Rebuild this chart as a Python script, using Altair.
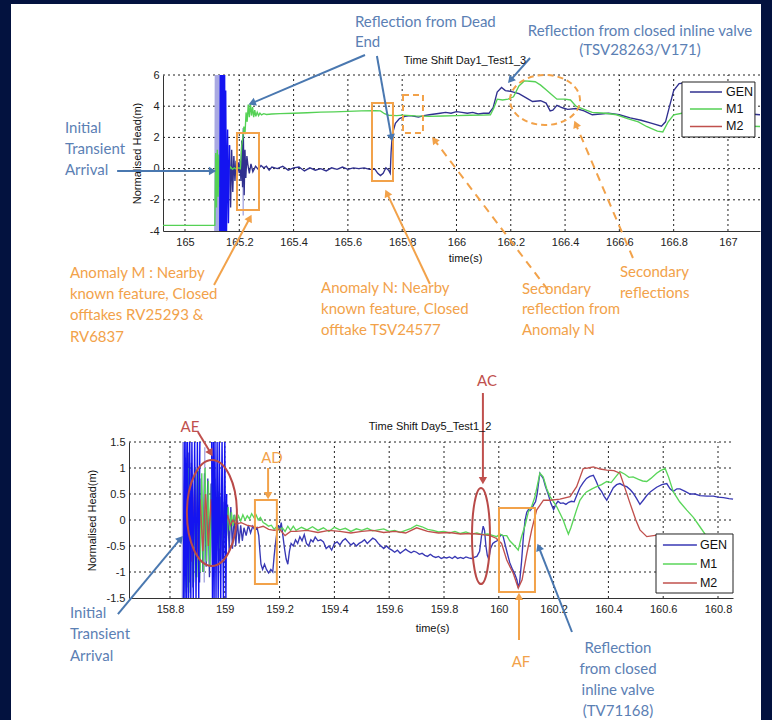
import math
import altair as alt
import pandas as pd

# ---------------- data ----------------
SERIES = ["GEN", "M1", "M2"]
TOP_TITLE = "Time Shift Day1_Test1_3"
BOT_TITLE = "Time Shift Day5_Test1_2"

TOP_XTICKS = [165.0, 165.2, 165.4, 165.6, 165.8, 166.0, 166.2, 166.4, 166.6, 166.8, 167.0]
TOP_YTICKS = [-4, -2, 0, 2, 4, 6]
BOT_XTICKS = [158.8, 159.0, 159.2, 159.4, 159.6, 159.8, 160.0, 160.2, 160.4, 160.6, 160.8]
BOT_YTICKS = [-1.5, -1.0, -0.5, 0.0, 0.5, 1.0, 1.5]

TOP_GEN = [(165.164, 1.5), (165.168, -2.5), (165.172, 1.2), (165.176, -1.5), (165.180, 0.8), (165.184, -0.8),
           (165.188, 0.5), (165.192, -0.5), (165.196, 0.4), (165.200, -0.3), (165.203, 0.5), (165.206, -0.8),
           (165.209, 1.8), (165.212, -1.2), (165.215, 2.2), (165.218, -1.7), (165.221, 1.2), (165.224, -0.6),
           (165.228, 0.8), (165.232, 0.2), (165.237, -0.3), (165.243, 0.3), (165.25, -0.2), (165.26, 0.15),
           (165.27, -0.05), (165.28, 0.2), (165.29, 0.05), (165.30, 0.15), (165.31, -0.1), (165.32, 0.1),
           (165.34, 0.0), (165.36, 0.15), (165.38, -0.1), (165.40, 0.05), (165.42, 0.1), (165.44, -0.15),
           (165.46, 0.05), (165.48, -0.1), (165.50, 0.0), (165.52, -0.15), (165.54, 0.05), (165.56, -0.05),
           (165.58, 0.1), (165.60, -0.05), (165.62, 0.05), (165.64, 0.0), (165.66, 0.05), (165.68, -0.05),
           (165.70, -0.05), (165.71, -0.3), (165.72, -0.45), (165.73, -0.3), (165.74, 0.05), (165.75, -0.1),
           (165.756, -0.3), (165.759, 1.0), (165.762, 1.8), (165.767, 2.4), (165.775, 2.9), (165.79, 3.2),
           (165.81, 3.35), (165.83, 3.4), (165.86, 3.3), (165.88, 3.4), (165.90, 3.45), (165.92, 3.5),
           (165.94, 3.55), (165.96, 3.6), (165.98, 3.55), (166.00, 3.65), (166.02, 3.6), (166.04, 3.55),
           (166.06, 3.6), (166.08, 3.5), (166.10, 3.55), (166.12, 3.55), (166.135, 3.9), (166.15, 4.9),
           (166.166, 5.2), (166.18, 5.0), (166.20, 4.95), (166.23, 4.8), (166.26, 4.5), (166.28, 4.3),
           (166.31, 4.35), (166.33, 4.2), (166.345, 3.7), (166.355, 3.75), (166.37, 4.05), (166.39, 3.9),
           (166.41, 3.8), (166.44, 3.85), (166.47, 3.7), (166.50, 3.45), (166.53, 3.5), (166.56, 3.55),
           (166.60, 3.45), (166.64, 3.25), (166.68, 3.1), (166.72, 2.9), (166.755, 2.72), (166.77, 3.0),
           (166.785, 4.0), (166.80, 5.0), (166.82, 5.45), (166.85, 5.5), (166.88, 5.4), (166.92, 5.3),
           (166.96, 5.0), (167.00, 4.2), (167.04, 3.6), (167.08, 3.5), (167.118, 3.45)]

TOP_M1 = [(164.919, -3.64), (165.110, -3.64), (165.113, 1.0), (165.116, -2.5), (165.119, 1.2), (165.122, -1.8),
          (165.125, 0.9), (165.128, -1.2), (165.131, 0.8), (165.134, -0.6), (165.138, 0.6), (165.142, -0.3),
          (165.147, 0.4), (165.152, -0.2), (165.157, 0.25), (165.162, -0.1), (165.168, 0.1), (165.175, -0.05),
          (165.182, 0.05), (165.190, -0.05), (165.198, 0.05), (165.204, 0.0), (165.209, 1.5), (165.213, 2.0),
          (165.217, 2.7), (165.221, 2.2), (165.225, 3.6), (165.229, 3.0), (165.233, 4.1), (165.237, 3.3),
          (165.241, 4.2), (165.245, 3.4), (165.249, 3.95), (165.253, 3.3), (165.257, 3.75), (165.261, 3.35),
          (165.266, 3.62), (165.271, 3.4), (165.276, 3.56), (165.282, 3.44), (165.29, 3.52), (165.30, 3.47),
          (165.32, 3.5), (165.35, 3.52), (165.40, 3.55), (165.45, 3.58), (165.50, 3.62), (165.55, 3.64),
          (165.60, 3.67), (165.65, 3.7), (165.70, 3.72), (165.72, 3.7), (165.735, 3.52), (165.75, 3.42),
          (165.78, 3.4), (165.80, 3.43), (165.85, 3.38), (165.90, 3.35), (165.95, 3.37), (166.00, 3.4),
          (166.05, 3.42), (166.10, 3.43), (166.125, 3.45), (166.138, 3.9), (166.15, 4.45), (166.17, 4.4),
          (166.19, 4.45), (166.21, 4.6), (166.23, 5.3), (166.25, 5.62), (166.27, 5.6), (166.29, 5.57),
          (166.31, 5.35), (166.33, 5.05), (166.35, 4.75), (166.37, 4.45), (166.40, 4.45), (166.42, 4.4),
          (166.44, 4.0), (166.47, 3.8), (166.50, 3.6), (166.55, 3.55), (166.59, 3.45), (166.63, 3.2),
          (166.67, 3.0), (166.70, 2.7), (166.74, 2.4), (166.76, 2.35), (166.78, 3.0), (166.80, 3.45),
          (166.83, 3.55), (166.86, 3.3), (166.90, 3.0), (166.95, 2.8), (167.00, 2.75), (167.118, 2.7)]

TOP_SPIKE = [[(165.128, -4), (165.130, 6), (165.132, -4), (165.134, 6), (165.136, -4), (165.138, 6),
              (165.140, -4), (165.142, 6), (165.144, -4), (165.146, 6), (165.148, -4), (165.150, 5),
              (165.153, -4), (165.157, 2.5), (165.160, -3.5), (165.164, 1.5)]]
TOP_FAINT = [[(165.110, -4), (165.112, 6), (165.114, -4), (165.116, 6), (165.118, -4), (165.120, 6),
              (165.122, -4), (165.124, 6), (165.126, -4), (165.128, 6)],
             [(165.2135, 2.6), (165.2145, -3.0)]]

BOT_GEN = [(158.850, 0.0), (158.855, 1.2), (158.860, -1.4), (158.866, 1.3), (158.872, -1.2), (158.878, 1.1),
           (158.884, -1.3), (158.890, 1.0), (158.896, -1.1), (158.902, 0.9), (158.908, -1.2), (158.914, 0.8),
           (158.920, -1.0), (158.926, 0.9), (158.932, -0.9), (158.938, 0.8), (158.944, -1.1), (158.950, 0.7),
           (158.956, -0.8), (158.962, 0.6), (158.968, -0.9), (158.974, 0.5), (158.980, -0.8), (158.986, 0.45),
           (158.992, -0.75), (158.998, 0.35), (159.004, -0.7), (159.010, 0.3), (159.016, -0.6), (159.022, 0.25),
           (159.028, -0.55), (159.034, 0.1), (159.040, -0.5), (159.046, 0.0), (159.052, -0.45), (159.058, -0.1),
           (159.064, -0.4), (159.070, -0.15), (159.078, -0.3), (159.086, -0.1), (159.094, -0.25), (159.102, -0.12),
           (159.110, -0.2), (159.118, -0.15), (159.124, -0.3), (159.128, -0.6), (159.132, -0.85), (159.138, -0.95),
           (159.145, -0.85), (159.152, -0.95), (159.160, -1.02), (159.168, -0.95), (159.175, -1.0), (159.180, -0.7),
           (159.185, -0.45), (159.190, -0.25), (159.196, -0.1), (159.200, -0.2), (159.206, -0.05), (159.212, -0.3),
           (159.218, -0.55), (159.224, -0.75), (159.230, -0.85), (159.236, -0.6), (159.242, -0.45), (159.250, -0.5),
           (159.258, -0.38), (159.266, -0.45), (159.274, -0.32), (159.282, -0.4), (159.290, -0.28), (159.298, -0.45),
           (159.306, -0.5), (159.314, -0.38), (159.322, -0.42), (159.330, -0.33), (159.340, -0.4), (159.350, -0.38),
           (159.360, -0.42), (159.370, -0.55), (159.380, -0.5), (159.390, -0.58), (159.400, -0.45), (159.410, -0.42),
           (159.420, -0.48), (159.430, -0.4), (159.440, -0.36), (159.450, -0.42), (159.460, -0.48), (159.470, -0.44),
           (159.480, -0.5), (159.490, -0.45), (159.500, -0.42), (159.510, -0.38), (159.520, -0.45), (159.530, -0.4),
           (159.540, -0.35), (159.550, -0.38), (159.560, -0.45), (159.570, -0.5), (159.580, -0.55), (159.590, -0.5),
           (159.600, -0.55), (159.610, -0.58), (159.620, -0.62), (159.630, -0.58), (159.640, -0.64), (159.650, -0.6),
           (159.660, -0.56), (159.670, -0.6), (159.680, -0.63), (159.690, -0.6), (159.700, -0.62), (159.710, -0.66),
           (159.720, -0.64), (159.730, -0.68), (159.740, -0.7), (159.750, -0.66), (159.760, -0.7), (159.770, -0.72),
           (159.780, -0.7), (159.790, -0.74), (159.800, -0.72), (159.810, -0.73), (159.820, -0.71), (159.830, -0.74),
           (159.840, -0.7), (159.850, -0.74), (159.860, -0.72), (159.870, -0.74), (159.880, -0.71), (159.890, -0.73),
           (159.900, -0.74), (159.910, -0.72), (159.920, -0.7), (159.930, -0.6), (159.937, -0.3), (159.943, -0.12),
           (159.948, -0.2), (159.953, -0.5), (159.958, -0.68), (159.963, -0.75), (159.970, -0.55), (159.978, -0.45),
           (159.986, -0.42), (159.994, -0.4), (160.000, -0.35), (160.008, -0.28), (160.015, -0.3), (160.022, -0.45),
           (160.030, -0.62), (160.040, -0.82), (160.050, -0.95), (160.059, -1.05), (160.066, -1.15), (160.071, -1.3),
           (160.076, -1.2), (160.083, -0.8), (160.090, -0.3), (160.096, 0.0), (160.102, 0.15), (160.108, 0.2),
           (160.114, 0.18), (160.120, 0.22), (160.128, 0.3), (160.134, 0.35), (160.140, 0.5), (160.146, 0.75),
           (160.150, 0.9), (160.156, 0.85), (160.162, 0.8), (160.170, 0.65), (160.180, 0.5), (160.190, 0.32),
           (160.200, 0.2), (160.208, 0.3), (160.216, 0.36), (160.225, 0.32), (160.235, 0.33), (160.245, 0.3),
           (160.255, 0.34), (160.265, 0.36), (160.275, 0.35), (160.285, 0.48), (160.296, 0.62), (160.308, 0.72),
           (160.320, 0.8), (160.332, 0.84), (160.345, 0.86), (160.355, 0.75), (160.365, 0.62), (160.375, 0.55),
           (160.385, 0.45), (160.394, 0.38), (160.404, 0.48), (160.418, 0.62), (160.430, 0.68), (160.442, 0.7),
           (160.455, 0.66), (160.467, 0.64), (160.480, 0.58), (160.490, 0.52), (160.502, 0.42), (160.515, 0.3),
           (160.527, 0.38), (160.540, 0.47), (160.555, 0.55), (160.576, 0.63), (160.595, 0.68), (160.613, 0.7),
           (160.625, 0.6), (160.637, 0.55), (160.650, 0.6), (160.661, 0.6), (160.680, 0.55), (160.698, 0.5),
           (160.716, 0.5), (160.734, 0.47), (160.760, 0.46), (160.783, 0.46), (160.800, 0.44), (160.820, 0.43),
           (160.840, 0.41), (160.855, 0.4)]

BOT_M1 = [(158.850, -1.5), (158.856, 0.8), (158.862, -1.3), (158.868, 1.0), (158.874, -1.4), (158.880, 0.9),
          (158.886, -1.2), (158.892, 1.0), (158.898, -1.1), (158.904, 0.95), (158.910, -1.0), (158.916, 0.9),
          (158.922, -1.0), (158.928, 1.0), (158.934, -0.8), (158.940, 0.75), (158.946, -0.9), (158.952, 0.7),
          (158.958, -0.85), (158.964, 0.8), (158.970, -0.6), (158.976, 0.55), (158.982, -0.55), (158.988, 0.45),
          (158.994, -0.4), (159.000, 0.35), (159.006, -0.3), (159.012, 0.25), (159.018, -0.2), (159.024, 0.15),
          (159.030, -0.12), (159.036, 0.1), (159.042, -0.05), (159.050, 0.08), (159.058, -0.02), (159.066, 0.1),
          (159.074, 0.0), (159.082, 0.08), (159.090, 0.02), (159.098, 0.12), (159.106, 0.05), (159.114, 0.1),
          (159.122, 0.0), (159.130, 0.05), (159.140, -0.05), (159.150, -0.08), (159.160, -0.12), (159.170, -0.1),
          (159.180, -0.18), (159.190, -0.12), (159.200, -0.2), (159.210, -0.15), (159.220, -0.22), (159.230, -0.12),
          (159.240, -0.2), (159.250, -0.12), (159.26, -0.2), (159.28, -0.14), (159.30, -0.19), (159.32, -0.13),
          (159.34, -0.2), (159.36, -0.15), (159.38, -0.22), (159.40, -0.14), (159.42, -0.19), (159.44, -0.16),
          (159.46, -0.22), (159.48, -0.17), (159.50, -0.2), (159.52, -0.16), (159.54, -0.21), (159.56, -0.19),
          (159.58, -0.17), (159.60, -0.22), (159.62, -0.2), (159.64, -0.24), (159.66, -0.2), (159.68, -0.16),
          (159.70, -0.1), (159.72, -0.13), (159.74, -0.18), (159.76, -0.2), (159.78, -0.23), (159.80, -0.22),
          (159.82, -0.25), (159.84, -0.22), (159.86, -0.26), (159.88, -0.23), (159.90, -0.27), (159.92, -0.25),
          (159.94, -0.28), (159.96, -0.27), (159.98, -0.3), (159.992, -0.32), (160.004, -0.27), (160.015, -0.3),
          (160.029, -0.3), (160.04, -0.4), (160.055, -0.48), (160.071, -0.58), (160.083, -0.32), (160.096, -0.1),
          (160.108, 0.16), (160.12, 0.26), (160.132, 0.45), (160.15, 0.9), (160.162, 0.83), (160.175, 0.6),
          (160.187, 0.45), (160.2, 0.35), (160.211, 0.26), (160.224, 0.12), (160.235, 0.0), (160.245, -0.15),
          (160.254, -0.27), (160.263, -0.15), (160.272, 0.0), (160.284, 0.2), (160.296, 0.38), (160.308, 0.47),
          (160.32, 0.54), (160.34, 0.6), (160.357, 0.64), (160.375, 0.68), (160.394, 0.74), (160.41, 0.72),
          (160.425, 0.82), (160.442, 0.93), (160.46, 0.88), (160.475, 0.82), (160.49, 0.83), (160.51, 0.78),
          (160.525, 0.75), (160.54, 0.74), (160.555, 0.8), (160.576, 0.9), (160.59, 0.95), (160.607, 0.99),
          (160.62, 0.82), (160.637, 0.54), (160.66, 0.35), (160.686, 0.19), (160.71, 0.05), (160.734, -0.13),
          (160.759, -0.32), (160.78, -0.5), (160.80, -0.65), (160.83, -0.75), (160.855, -0.78)]

BOT_M2 = [(158.850, 0.0), (158.860, -0.6), (158.870, 0.5), (158.880, -0.8), (158.890, 0.6), (158.900, -0.7),
          (158.910, 0.4), (158.920, -0.6), (158.930, 0.5), (158.940, -0.5), (158.950, 0.4), (158.960, -0.4),
          (158.970, 0.3), (158.980, -0.3), (158.990, 0.2), (159.000, -0.2), (159.010, 0.1), (159.020, -0.1),
          (159.030, 0.0), (159.040, -0.08), (159.060, -0.05), (159.080, -0.1), (159.100, -0.12), (159.12, -0.15),
          (159.14, -0.12), (159.16, -0.18), (159.18, -0.2), (159.20, -0.18), (159.22, -0.3), (159.24, -0.22),
          (159.26, -0.22), (159.30, -0.2), (159.34, -0.24), (159.38, -0.2), (159.42, -0.22), (159.46, -0.25),
          (159.50, -0.22), (159.54, -0.2), (159.58, -0.24), (159.62, -0.22), (159.66, -0.25), (159.70, -0.15),
          (159.74, -0.22), (159.78, -0.25), (159.82, -0.24), (159.86, -0.27), (159.90, -0.26), (159.94, -0.28),
          (159.968, -0.3), (159.99, -0.35), (160.01, -0.45), (160.029, -0.77), (160.053, -1.03), (160.071, -1.31),
          (160.085, -1.15), (160.102, -0.65), (160.12, -0.19), (160.138, 0.19), (160.163, 0.38), (160.187, 0.38),
          (160.223, 0.4), (160.26, 0.45), (160.284, 0.64), (160.308, 0.99), (160.325, 1.0), (160.345, 1.02),
          (160.37, 0.98), (160.394, 0.96), (160.42, 0.95), (160.442, 0.9), (160.455, 0.7), (160.479, 0.32),
          (160.5, 0.0), (160.515, -0.19), (160.54, -0.32), (160.576, -0.29), (160.62, -0.4), (160.68, -0.6),
          (160.74, -0.8), (160.80, -0.95), (160.855, -1.0)]

BOT_SPIKE = [[(158.849, -1.5), (158.852, 1.5), (158.855, -1.5), (158.858, 1.5), (158.861, -1.5), (158.864, 1.5),
              (158.868, -1.5), (158.872, 1.5), (158.876, -1.5), (158.880, 1.5), (158.885, -1.5), (158.890, 1.5),
              (158.895, -1.5), (158.900, 1.5), (158.905, -1.5), (158.909, 1.5)],
             [(158.952, 1.5), (158.955, -1.5), (158.958, 1.5), (158.961, -1.5), (158.964, 1.5), (158.968, -1.5),
              (158.972, 1.5), (158.976, -1.5), (158.980, 1.5), (158.985, -1.5), (158.990, 1.5), (158.995, -1.5),
              (159.000, 1.5), (159.004, -1.5), (159.007, 0.5)]]
BOT_FAINT = [[(158.845, -1.5), (158.8465, 1.5), (158.848, -1.5)],
             [(158.925, -1.2), (158.927, 1.4)]]

# ---------------- styling / layout ----------------
NAVY = "#03123f"
BLUE_TXT = "#5b80b4"
BLUE_ARW = "#4a78b0"
ORANGE = "#f2a24a"
RED = "#c0504d"
FONT = "Lato"
AX_FONT = "Liberation Sans"
LBL = "replace(format(datum.value, '~g'), '\u2212', '-')"

TOP = dict(
    xdom=[164.919, 167.118], xrng=[152, 749], ydom=[-4, 6], yrng=[227, 71],
    xticks=TOP_XTICKS, yticks=TOP_YTICKS,
    xoff=-489, yoff=-152, xtitle=(454, 27), ytitle=(-26, 149),
    colors=["#30308f", "#55d155", "#c0504d"],
    series=[("GEN", TOP_GEN), ("M1", TOP_M1)],
    spike=TOP_SPIKE, faint=TOP_FAINT,
    legend=dict(box=(166.8306, 167.0994, 2.026, 5.551), rows=[4.91, 3.82, 2.699], line=(166.86, 166.978), lab=166.993),
    texts=[(165.626, 9.397, "Reflection from Dead", BLUE_TXT, "left", 15),
           (165.626, 8.115, "End", BLUE_TXT, "left", 15),
           (166.676, 8.82, "Reflection from closed inline  valve", BLUE_TXT, "center", 15),
           (166.676, 7.603, "(TSV28263/V171)", BLUE_TXT, "center", 15),
           (164.558, 2.603, "Initial", BLUE_TXT, "left", 15),
           (164.558, 1.256, "Transient", BLUE_TXT, "left", 15),
           (164.558, -0.09, "Arrival", BLUE_TXT, "left", 15),
           (164.576, -6.692, "Anomaly M : Nearby", ORANGE, "left", 15),
           (164.576, -8.038, "known feature, Closed", ORANGE, "left", 15),
           (164.576, -9.385, "offtakes RV25293 &", ORANGE, "left", 15),
           (164.576, -10.795, "RV6837", ORANGE, "left", 15),
           (165.501, -7.654, "Anomaly N: Nearby", ORANGE, "left", 15),
           (165.501, -9.0, "known feature, Closed", ORANGE, "left", 15),
           (165.501, -10.346, "offtake TSV24577", ORANGE, "left", 15),
           (166.241, -7.718, "Secondary", ORANGE, "left", 15),
           (166.241, -9.0, "reflection from", ORANGE, "left", 15),
           (166.241, -10.346, "Anomaly N", ORANGE, "left", 15),
           (166.602, -6.628, "Secondary", ORANGE, "left", 15),
           (166.602, -7.974, "reflections", ORANGE, "left", 15)],
    title=(166.031, 6.897, TOP_TITLE),
    arrows=[(165.663, 7.282, 165.239, 4.141, BLUE_ARW, False),
            (165.707, 7.218, 165.762, 1.833, BLUE_ARW, False),
            (166.271, 7.09, 166.193, 5.551, BLUE_ARW, False),
            (164.750, -0.154, 165.110, -0.154, BLUE_ARW, False),
            (165.107, -7.46, 165.243, -3.038, ORANGE, False),
            (165.902, -7.397, 165.740, -1.436, ORANGE, False),
            (166.337, -7.782, 165.913, 1.962, ORANGE, True),
            (166.650, -5.731, 166.436, 2.987, ORANGE, True)],
    rects=[(165.1915, 165.2726, -2.654, 2.282, ORANGE, False),
           (165.6888, 165.7661, -0.795, 4.205, ORANGE, False),
           (165.803, 165.8766, 2.282, 4.718, ORANGE, True)],
    ellipses=[(166.326, 4.397, 70, 50, ORANGE, True)],
)

BOT = dict(
    xdom=[158.6504, 160.8547], xrng=[118, 722], ydom=[-1.5, 1.5], yrng=[594, 438],
    xticks=BOT_XTICKS, yticks=BOT_YTICKS,
    xoff=-122, yoff=-118, xtitle=(421, 30), ytitle=(-37, 516),
    colors=["#3838b4", "#5ad65a", "#c0504d"],
    series=[("GEN", BOT_GEN), ("M1", BOT_M1), ("M2", BOT_M2)],
    spike=BOT_SPIKE, faint=BOT_FAINT,
    legend=dict(box=(160.5737, 160.8547, -1.404, -0.269), rows=[-0.481, -0.846, -1.212], line=(160.599, 160.723), lab=160.734),
    texts=[(158.873, 1.788, "AE", RED, "center", 15),
           (159.172, 1.192, "AD", ORANGE, "center", 15),
           (159.957, 2.673, "AC", RED, "center", 15),
           (160.081, -2.731, "AF", ORANGE, "center", 15),
           (160.435, -2.462, "Reflection", BLUE_TXT, "center", 15),
           (160.435, -2.865, "from closed", BLUE_TXT, "center", 15),
           (160.435, -3.269, "inline valve", BLUE_TXT, "center", 15),
           (160.435, -3.673, "(TV71168)", BLUE_TXT, "center", 15),
           (158.435, -1.788, "Initial", BLUE_TXT, "left", 15),
           (158.435, -2.192, "Transient", BLUE_TXT, "left", 15),
           (158.435, -2.615, "Arrival", BLUE_TXT, "left", 15)],
    title=(159.749, 1.788, BOT_TITLE),
    arrows=[(158.902, 1.692, 158.953, 1.25, RED, False),
            (159.942, 2.442, 159.942, 0.712, RED, False),
            (159.158, 1.0, 159.158, 0.423, ORANGE, False),
            (160.0737, -2.308, 160.0737, -1.423, ORANGE, False),
            (160.267, -2.154, 160.143, -0.481, BLUE_ARW, False),
            (158.610, -1.808, 158.844, -0.327, BLUE_ARW, False)],
    rects=[(159.110, 159.190, -1.231, 0.385, ORANGE, False),
           (160.0007, 160.132, -1.385, 0.231, ORANGE, False)],
    ellipses=[(158.953, 0.135, 50, 106, "#b94a48", False),
              (159.935, -0.308, 18, 96, "#b94a48", False)],
)


def ellipse_path(w, h):
    if w >= h:
        r = h / w
        return f"M -1 0 A 1 {r:.4f} 0 1 1 1 0 A 1 {r:.4f} 0 1 1 -1 0 Z", w * w
    r = w / h
    return f"M 0 -1 A {r:.4f} 1 0 1 1 0 1 A {r:.4f} 1 0 1 1 0 -1 Z", h * h


def panel(c):
    xs = alt.Scale(domain=c["xdom"], range=c["xrng"], zero=False, nice=False)
    ys = alt.Scale(domain=c["ydom"], range=c["yrng"], zero=False, nice=False)
    common = dict(grid=False, ticks=False, labelExpr=LBL, labelOverlap=False, labelFlush=False,
                  domainColor="#333333", domainWidth=1, labelColor="#222222", labelFont=AX_FONT,
                  labelFontSize=11, titleFont=AX_FONT, titleFontSize=11, titleFontWeight="normal",
                  titleColor="#111111", titleBaseline="middle")
    xa = alt.Axis(orient="bottom", offset=c["xoff"], values=c["xticks"], labelPadding=5, title="time(s)",
                  titleX=c["xtitle"][0], titleY=c["xtitle"][1], **common)
    ya = alt.Axis(orient="left", offset=c["yoff"], values=c["yticks"], labelPadding=4, title="Normalised Head(m)",
                  titleX=c["ytitle"][0], titleY=c["ytitle"][1], titleAngle=270, titleAlign="center", **common)
    cs = alt.Scale(domain=SERIES, range=c["colors"])

    def X(f):
        return alt.X(f, type="quantitative", scale=xs, axis=xa)

    def Y(f):
        return alt.Y(f, type="quantitative", scale=ys, axis=ya)

    pxt = (c["xrng"][1] - c["xrng"][0]) / (c["xdom"][1] - c["xdom"][0])
    pxv = (c["yrng"][0] - c["yrng"][1]) / (c["ydom"][1] - c["ydom"][0])
    layers = []

    # dotted grid
    vg = pd.DataFrame({"t": c["xticks"], "lo": c["ydom"][0], "hi": c["ydom"][1]})
    layers.append(alt.Chart(vg).mark_rule(color="#222222", strokeWidth=1, strokeDash=[2, 3])
                  .encode(x=X("t"), y=Y("lo"), y2=alt.Y2("hi")))
    hg = pd.DataFrame({"v": [v for v in c["yticks"] if v != c["ydom"][0]], "lo": c["xdom"][0], "hi": c["xdom"][1]})
    layers.append(alt.Chart(hg).mark_rule(color="#222222", strokeWidth=1, strokeDash=[2, 3])
                  .encode(y=Y("v"), x=X("lo"), x2=alt.X2("hi")))

    # faint strokes
    rows = [(i, t, v) for i, seg in enumerate(c["faint"]) for t, v in seg]
    fd = pd.DataFrame(rows, columns=["seg", "t", "v"])
    layers.append(alt.Chart(fd).mark_line(color="#a9a9e2", strokeWidth=1.4)
                  .encode(x=X("t"), y=Y("v"), detail="seg:N"))

    # series
    for name, pts in c["series"]:
        d = pd.DataFrame(pts, columns=["t", "v"])
        d["series"] = name
        layers.append(alt.Chart(d).mark_line(strokeWidth=1.35)
                      .encode(x=X("t"), y=Y("v"), color=alt.Color("series:N", scale=cs, legend=None)))

    # initial transient spikes
    rows = [(i, t, v) for i, seg in enumerate(c["spike"]) for t, v in seg]
    sd = pd.DataFrame(rows, columns=["seg", "t", "v"])
    layers.append(alt.Chart(sd).mark_line(color="#1414f0", strokeWidth=1.4)
                  .encode(x=X("t"), y=Y("v"), detail="seg:N"))

    # legend
    lg = c["legend"]
    bd = pd.DataFrame([lg["box"]], columns=["t1", "t2", "v1", "v2"])
    layers.append(alt.Chart(bd).mark_rect(fill="white", stroke="#222222", strokeWidth=1)
                  .encode(x=X("t1"), x2=alt.X2("t2"), y=Y("v1"), y2=alt.Y2("v2")))
    ld = pd.DataFrame({"series": SERIES, "v": lg["rows"], "t1": lg["line"][0], "t2": lg["line"][1], "tl": lg["lab"]})
    layers.append(alt.Chart(ld).mark_rule(strokeWidth=1.3)
                  .encode(x=X("t1"), x2=alt.X2("t2"), y=Y("v"),
                          color=alt.Color("series:N", scale=cs, legend=None)))
    layers.append(alt.Chart(ld).mark_text(align="left", baseline="middle", font=AX_FONT, fontSize=12.5, color="#111111")
                  .encode(x=X("tl"), y=Y("v"), text="series:N"))

    # annotation rectangles
    for t1, t2, v1, v2, col, dashed in c["rects"]:
        d = pd.DataFrame([(t1, t2, v1, v2)], columns=["t1", "t2", "v1", "v2"])
        kw = dict(fill="transparent", stroke=col, strokeWidth=2)
        if dashed:
            kw["strokeDash"] = [6, 4]
        layers.append(alt.Chart(d).mark_rect(**kw)
                      .encode(x=X("t1"), x2=alt.X2("t2"), y=Y("v1"), y2=alt.Y2("v2")))

    # ellipses
    for t, v, w, h, col, dashed in c["ellipses"]:
        path, size = ellipse_path(w, h)
        d = pd.DataFrame([(t, v)], columns=["t", "v"])
        kw = dict(shape=path, size=size, filled=False, color=col, strokeWidth=2, opacity=1)
        if dashed:
            kw["strokeDash"] = [6, 4]
        layers.append(alt.Chart(d).mark_point(**kw).encode(x=X("t"), y=Y("v")))

    # arrows
    for t1, v1, t2, v2, col, dashed in c["arrows"]:
        dx = (t2 - t1) * pxt
        dy = -(v2 - v1) * pxv
        L = math.hypot(dx, dy)
        ux, uy = dx / L, dy / L
        back = 3.5
        th = t2 - back * ux / pxt
        vh = v2 + back * uy / pxv
        ang = math.degrees(math.atan2(ux, -uy)) % 360
        d = pd.DataFrame([(t1, v1, th, vh, ang)], columns=["t1", "v1", "t2", "v2", "ang"])
        kw = dict(color=col, strokeWidth=2)
        if dashed:
            kw["strokeDash"] = [8, 6]
        layers.append(alt.Chart(d).mark_rule(**kw)
                      .encode(x=X("t1"), x2=alt.X2("t2"), y=Y("v1"), y2=alt.Y2("v2")))
        layers.append(alt.Chart(d).mark_point(shape="triangle", filled=True, size=70, color=col, opacity=1)
                      .encode(x=X("t2"), y=Y("v2"), angle=alt.Angle("ang:Q", scale=None)))

    # annotation texts
    td = pd.DataFrame(c["texts"], columns=["t", "v", "label", "color", "align", "size"])
    for (col, al, sz), g in td.groupby(["color", "align", "size"]):
        layers.append(alt.Chart(g).mark_text(align=al, baseline="middle", font=FONT, fontSize=float(sz), color=col)
                      .encode(x=X("t"), y=Y("v"), text="label:N"))

    # panel title
    tt = pd.DataFrame([c["title"]], columns=["t", "v", "label"])
    layers.append(alt.Chart(tt).mark_text(align="center", baseline="middle", font=AX_FONT, fontSize=11, color="#111111")
                  .encode(x=X("t"), y=Y("v"), text="label:N"))

    return alt.layer(*layers)


chart = (
    alt.layer(panel(TOP), panel(BOT))
    .resolve_scale(x="independent", y="independent", color="independent")
    .resolve_axis(x="independent", y="independent")
    .properties(width=750, height=716, background=NAVY,
                padding={"left": 11, "top": 4, "right": 11, "bottom": 0},
                autosize=alt.AutoSizeParams(type="none"))
    .configure_view(fill="white", strokeWidth=0)
)

chart.save("out.html", embed_options={"renderer": "svg", "actions": False})
